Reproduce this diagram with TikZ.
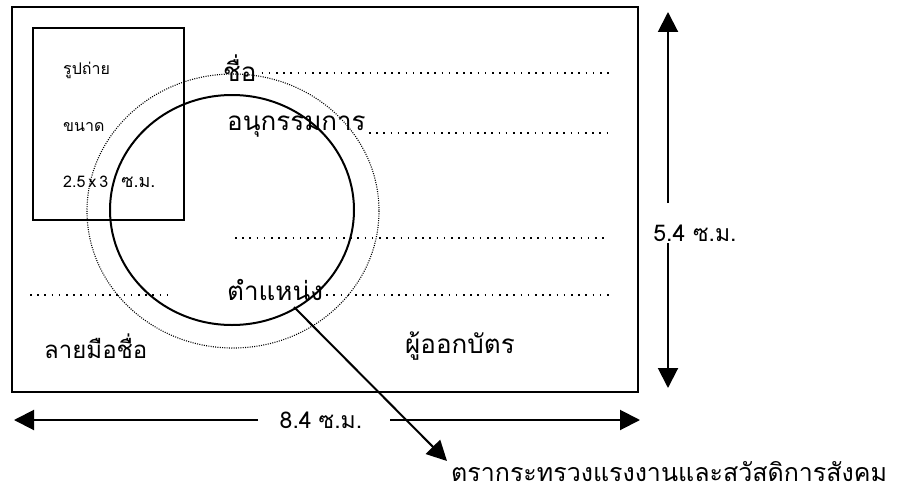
\documentclass[tikz,border=0pt]{standalone}
\usepackage{fontspec}
\newfontfamily\thaifont[Script=Thai]{Loma}
\usetikzlibrary{arrows.meta}
\tikzset{
  frame/.style={draw, line width=2pt},
  seal/.style={draw, line width=2pt},
  sealdots/.style={draw, line width=1.1pt, dash pattern=on 1pt off 1.3pt},
  fillline/.style={line width=1.7pt, dash pattern=on 1.6pt off 5.6pt},
  dimarrow/.style={line width=2pt, -{Triangle[length=20pt,width=20pt]}},
  lbl/.style={inner sep=0pt, font=\thaifont\fontsize{26}{29}\selectfont},
  small/.style={inner sep=0pt, font=\thaifont\fontsize{16}{19}\selectfont},
}
\begin{document}
\begin{tikzpicture}[x=1pt,y=-1pt]
\useasboundingbox (0,0) rectangle (918,495);
% card
\draw[frame] (12,7) rectangle (638,392);
\draw[frame] (33,28) rectangle (184,220);
% photo texts
\node[small, anchor=west] (photo) at (63,70) {รูปถ่าย};
\node[small, anchor=west] (size) at (63,127) {ขนาด};
\node[small, anchor=west] (dim) at (63,182) {2.5\hspace{3pt}x\hspace{3pt}3\hspace{13pt}{\fontsize{18}{19}\selectfont ซ.ม.}};
% form fields
\node[lbl, anchor=west] (name) at (223,68) {ชื่อ};
\coordinate (nameend) at (610,73);
\draw[fillline] (name.east |- nameend) ++(5,0) -- (nameend);
\node[lbl, anchor=west] (comm) at (227,127) {อนุกรรมการ};
\coordinate (commend) at (610,133);
\draw[fillline] (comm.east |- commend) ++(3,0) -- (commend);
\coordinate (blanka) at (235,238);
\coordinate (blankb) at (605,238);
\draw[fillline] (blanka) -- (blankb);
\node[lbl, anchor=west] (pos) at (227,290) {ตำแหน่ง};
\coordinate (posend) at (610,295);
\draw[fillline] (pos.east |- posend) ++(3,0) -- (posend);
\coordinate (siga) at (30,295);
\coordinate (sigb) at (170,295);
\draw[fillline] (siga) -- (sigb);
\node[lbl, font=\thaifont\fontsize{24}{27}\selectfont, anchor=west] (sign) at (44,346) {ลายมือชื่อ};
\node[lbl, font=\thaifont\fontsize{26}{29}\selectfont, anchor=west] (issuer) at (405,346) {ผู้ออกบัตร};
% seal circles
\draw[sealdots] (233,211) ellipse [x radius=146, y radius=137];
\draw[seal] (232,210) ellipse [x radius=122, y radius=115];
% seal label
\node[lbl, font=\thaifont\fontsize{25}{27}\selectfont, anchor=west] (seallbl) at (451,472) {ตรากระทรวงแรงงานและสวัสดิการสังคม};
\coordinate (sealpt) at (294,307);
\coordinate (sealtip) at (447,461);
\draw[dimarrow] (sealpt) -- (sealtip);
% horizontal dimension
\node[lbl, font=\fontsize{23}{26}\selectfont\thaifont] (wlbl) at (321,420) {8.4\hspace{7pt}ซ.ม.};
\coordinate (wla) at (258,420);
\coordinate (wl) at (14,420);
\coordinate (wra) at (390,420);
\coordinate (wr) at (640,420);
\draw[dimarrow] (wla) -- (wl);
\draw[dimarrow] (wra) -- (wr);
% vertical dimension
\node[lbl, font=\fontsize{23}{26}\selectfont\thaifont] (hlbl) at (695,233) {5.4 ซ.ม.};
\coordinate (hta) at (668,203);
\coordinate (ht) at (668,12);
\coordinate (hba) at (668,243);
\coordinate (hb) at (668,388);
\draw[dimarrow] (hta) -- (ht);
\draw[dimarrow] (hba) -- (hb);
\end{tikzpicture}
\end{document}
